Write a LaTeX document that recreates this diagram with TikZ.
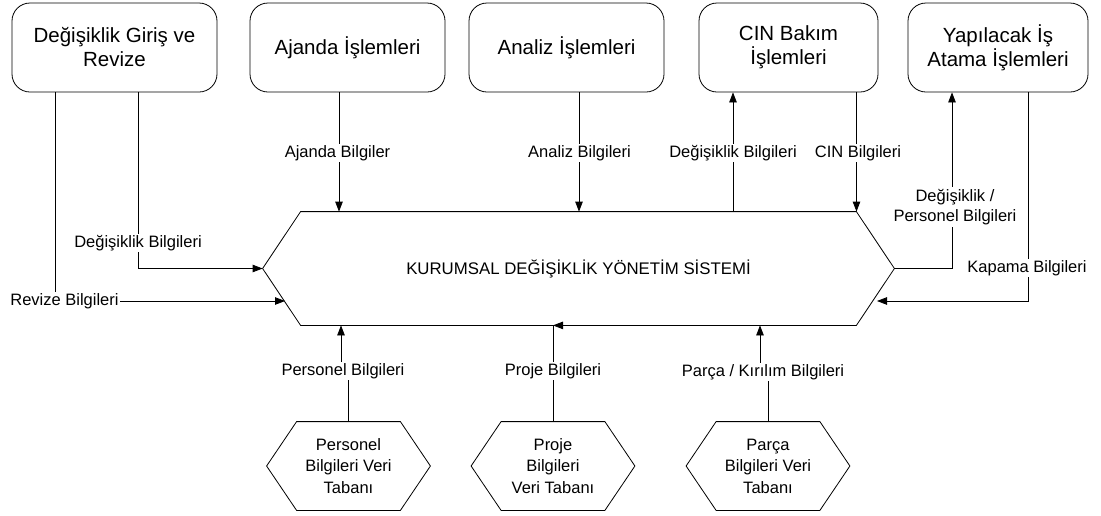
\documentclass[tikz,border=0pt]{standalone}
\usepackage{fontspec}
\setmainfont{Liberation Sans}
\usetikzlibrary{arrows.meta,calc}
\newcommand\hexoutline[2]{%
  \draw ($(#1.north west)+(#2,0)$) -- ($(#1.north east)+(-#2,0)$) -- (#1.east)
     -- ($(#1.south east)+(-#2,0)$) -- ($(#1.south west)+(#2,0)$) -- (#1.west) -- cycle;}
\begin{document}
\begin{tikzpicture}[x=1pt,y=-1pt,line width=0.8pt,
  box/.style={draw, rounded corners=18pt, minimum height=89pt, inner sep=0pt,
    align=center, font=\fontsize{20.5}{24}\selectfont},
  lab/.style={fill=white, inner sep=1.5pt, align=center,
    font=\fontsize{16.5}{20.5}\selectfont},
  arr/.style={-{Triangle[length=10pt,width=7.5pt]}},
  hexcore/.style={minimum width=163pt, minimum height=88pt, inner sep=0pt,
    align=center, font=\fontsize{16.5}{21.5}\selectfont}]
\useasboundingbox (0,0) rectangle (1101,515);

% top boxes
\node[box, minimum width=205pt] (b1) at (114.5,47.5) {Değişiklik Giriş ve\\Revize};
\node[box, minimum width=195pt] (b2) at (347.5,47.5) {Ajanda İşlemleri};
\node[box, minimum width=195pt] (b3) at (566.5,47.5) {Analiz İşlemleri};
\node[box, minimum width=179pt] (b4) at (788.5,47.5) {CIN Bakım\\İşlemleri};
\node[box, minimum width=180pt] (b5) at (998,47.5) {Yapılacak İş\\Atama İşlemleri};

% central hexagon
\node[minimum width=631pt, minimum height=113pt, inner sep=0pt,
  font=\fontsize{16.8}{20}\selectfont] (k) at (578.5,268.5)
  {KURUMSAL DEĞİŞİKLİK YÖNETİM SİSTEMİ};
\hexoutline{k}{38}

% bottom hexagons
\node[hexcore] (hp) at (348.5,466) {Personel\\Bilgileri Veri\\Tabanı};
\node[hexcore] (hj) at (553,466) {Proje\\Bilgileri\\Veri Tabanı};
\node[hexcore] (hk) at (768,466) {Parça\\Bilgileri Veri\\Tabanı};
\hexoutline{hp}{30}
\hexoutline{hj}{30}
\hexoutline{hk}{30}

% coordinates
\coordinate (xaj) at (339,0);
\coordinate (xan) at (579,0);
\coordinate (xcu) at (733,0);
\coordinate (xcd) at (856.5,0);
\coordinate (xdp) at (952,0);
\coordinate (xkp) at (1028,0);
\coordinate (xdg) at (138,0);
\coordinate (xrv) at (55,0);
\coordinate (rin) at (285,301);
\coordinate (kin) at (877,301);
\coordinate (pa) at (341,371);
\coordinate (ka) at (760,372);

% connectors
\draw[arr] (xaj |- b2.south) -- (xaj |- k.north);
\draw[arr] (xan |- b3.south) -- (xan |- k.north);
\draw[arr] (xcu |- k.north) -- (xcu |- b4.south);
\draw[arr] (xcd |- b4.south) -- (xcd |- k.north);
\draw[arr] (k.east) -| (xdp |- b5.south);
\draw[arr] (xkp |- b5.south) |- (kin);
\draw[arr] (xdg |- b1.south) |- (k.west);
\draw[arr] (xrv |- b1.south) |- (rin);
\draw[arr] (hp.north) -- (hp.north |- pa) -- (pa) -- (pa |- k.south);
\draw (hj.north) -- (hj.north |- k.south);
\draw[arr] ($(hj.north |- k.south)+(12,0)$) -- (hj.north |- k.south);
\draw[arr] (hk.north) -- (hk.north |- ka) -- (ka) -- (ka |- k.south);

% labels
\node[lab] (l1) at (337.5,153) {Ajanda Bilgiler};
\node[lab] (l2) at (579.5,153) {Analiz Bilgileri};
\node[lab] (l3) at (733,153) {Değişiklik Bilgileri};
\node[lab] (l4) at (858,153) {CIN Bilgileri};
\node[lab] (l5) at (955,207) {Değişiklik /\\Personel Bilgileri};
\node[lab] (l6) at (1027,268) {Kapama Bilgileri};
\node[lab] (l7) at (138,243) {Değişiklik Bilgileri};
\node[lab] (l8) at (64.5,301) {Revize Bilgileri};
\node[lab] (l9) at (343,371) {Personel Bilgileri};
\node[lab] (l10) at (553,371) {Proje Bilgileri};
\node[lab] (l11) at (763,372) {Parça / Kırılım Bilgileri};
\end{tikzpicture}
\end{document}
